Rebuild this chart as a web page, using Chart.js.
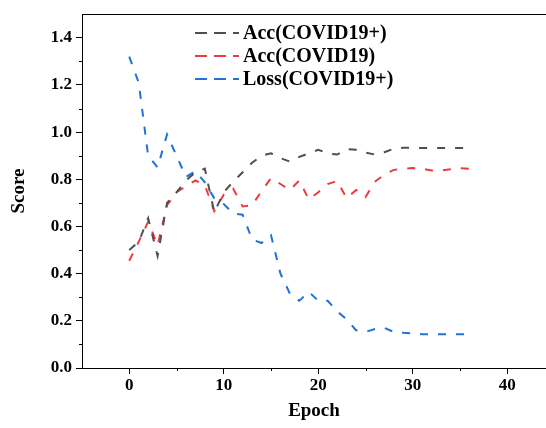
<!DOCTYPE html>
<html>
<head>
<meta charset="utf-8">
<script src="https://cdn.jsdelivr.net/npm/chart.js@4"></script>
<style>
  html, body { margin: 0; padding: 0; background: #fff; }
  #wrap { width: 546px; height: 428px; }
</style>
</head>
<body>
<div id="wrap"><canvas id="c" width="546" height="428"></canvas></div>
<script>
// ---- data ----
const epochs = [0,1,2,3,4,5,6,7,8,9,10,11,12,13,14,15,16,17,18,19,20,21,22,23,24,25,26,27,28,29,30,31,32,33,34,35,36];
const accCovidPlus = [0.50,0.535,0.635,0.475,0.70,0.745,0.795,0.83,0.845,0.66,0.745,0.79,0.83,0.87,0.90,0.91,0.89,0.875,0.895,0.91,0.925,0.91,0.905,0.928,0.925,0.913,0.905,0.915,0.93,0.934,0.933,0.933,0.933,0.933,0.933,0.933,0.933];
const accCovid = [0.455,0.535,0.62,0.52,0.69,0.745,0.77,0.795,0.775,0.665,0.735,0.76,0.685,0.69,0.75,0.805,0.78,0.755,0.795,0.715,0.745,0.78,0.793,0.72,0.755,0.725,0.79,0.82,0.84,0.845,0.848,0.845,0.837,0.837,0.843,0.847,0.845];
const lossCovidPlus = [1.32,1.21,0.90,0.85,0.99,0.90,0.81,0.835,0.787,0.72,0.695,0.655,0.65,0.545,0.53,0.563,0.40,0.315,0.285,0.323,0.285,0.285,0.24,0.207,0.16,0.153,0.165,0.17,0.153,0.149,0.147,0.143,0.143,0.143,0.143,0.143,0.143];
const seriesLabels = ['Acc(COVID19+)', 'Acc(COVID19)', 'Loss(COVID19+)'];
const xTicks = [0, 10, 20, 30, 40];
const xMinorTicks = [5, 15, 25, 35];
const yTicks = [0.0, 0.2, 0.4, 0.6, 0.8, 1.0, 1.2, 1.4];
const yMinorTicks = [0.1, 0.3, 0.5, 0.7, 0.9, 1.1, 1.3];

const FONT = '"Liberation Serif", "Times New Roman", serif';
const colors = ['#4f4f4f', '#ee3b40', '#2171d9'];

function pts(ys) { return epochs.map((e, i) => ({ x: e, y: ys[i] })); }

const minorTicksPlugin = {
  id: 'minorTicks',
  afterDraw(chart) {
    const { ctx, chartArea, scales } = chart;
    ctx.save();
    ctx.strokeStyle = '#000';
    ctx.lineWidth = 1;
    // top border
    ctx.beginPath();
    ctx.moveTo(chartArea.left, Math.round(chartArea.top) + 0.5);
    ctx.lineTo(chartArea.right, Math.round(chartArea.top) + 0.5);
    ctx.stroke();
    ctx.beginPath();
    xMinorTicks.forEach(v => {
      const px = Math.round(scales.x.getPixelForValue(v)) + 0.5;
      ctx.moveTo(px, chartArea.bottom);
      ctx.lineTo(px, chartArea.bottom + 3);
    });
    yMinorTicks.forEach(v => {
      const py = Math.round(scales.y.getPixelForValue(v)) + 0.5;
      ctx.moveTo(chartArea.left, py);
      ctx.lineTo(chartArea.left - 3, py);
    });
    ctx.stroke();
    ctx.restore();
  }
};

const legendPlugin = {
  id: 'customLegend',
  afterDraw(chart) {
    const { ctx } = chart;
    ctx.save();
    ctx.font = 'bold 20px ' + FONT;
    ctx.textBaseline = 'middle';
    ctx.textAlign = 'left';
    const rows = [33, 56, 79];
    chart.data.datasets.forEach((ds, i) => {
      const y = rows[i];
      ctx.strokeStyle = ds.borderColor;
      ctx.lineWidth = 2;
      ctx.setLineDash([12, 7]);
      ctx.beginPath();
      ctx.moveTo(195, y);
      ctx.lineTo(239, y);
      ctx.stroke();
      ctx.setLineDash([]);
      ctx.fillStyle = '#000';
      ctx.fillText(ds.label, 243, y + 1);
    });
    ctx.restore();
  }
};

new Chart(document.getElementById('c'), {
  type: 'line',
  data: {
    datasets: [
      { label: seriesLabels[0], data: pts(accCovidPlus) },
      { label: seriesLabels[1], data: pts(accCovid) },
      { label: seriesLabels[2], data: pts(lossCovidPlus) }
    ].map((d, i) => Object.assign(d, {
      borderColor: colors[i],
      backgroundColor: colors[i],
      borderWidth: 2,
      borderDash: [8, 10],
      borderCapStyle: 'butt',
      pointRadius: 0,
      tension: 0,
      fill: false
    }))
  },
  options: {
    responsive: false,
    animation: false,
    events: [],
    layout: { padding: { top: 6, right: 0, bottom: 0, left: 0 } },
    plugins: { legend: { display: false }, tooltip: { enabled: false } },
    scales: {
      x: {
        type: 'linear',
        min: -5,
        max: 44.1,
        afterBuildTicks(scale) { scale.ticks = xTicks.map(v => ({ value: v })); },
        afterFit(scale) { scale.height = 60; },
        grid: { drawOnChartArea: false, drawTicks: true, tickLength: 6, tickColor: '#000', color: '#000' },
        border: { display: true, color: '#000', width: 1 },
        ticks: { color: '#000', padding: 1, maxRotation: 0, font: { family: FONT, size: 17, weight: 'bold' } },
        title: { display: true, text: 'Epoch', color: '#000', padding: { top: 0, bottom: 6 }, font: { family: FONT, size: 19, weight: 'bold' } }
      },
      y: {
        type: 'linear',
        min: 0,
        max: 1.5,
        afterBuildTicks(scale) { scale.ticks = yTicks.map(v => ({ value: v })); },
        afterFit(scale) { scale.width = 82; },
        grid: { drawOnChartArea: false, drawTicks: true, tickLength: 6, tickColor: '#000', color: '#000' },
        border: { display: true, color: '#000', width: 1 },
        ticks: { color: '#000', padding: 4, callback: v => Number(v).toFixed(1), font: { family: FONT, size: 17, weight: 'bold' } },
        title: { display: true, text: 'Score', color: '#000', padding: { top: 8, bottom: 0 }, font: { family: FONT, size: 19, weight: 'bold' } }
      }
    }
  },
  plugins: [minorTicksPlugin, legendPlugin]
});
</script>
</body>
</html>
